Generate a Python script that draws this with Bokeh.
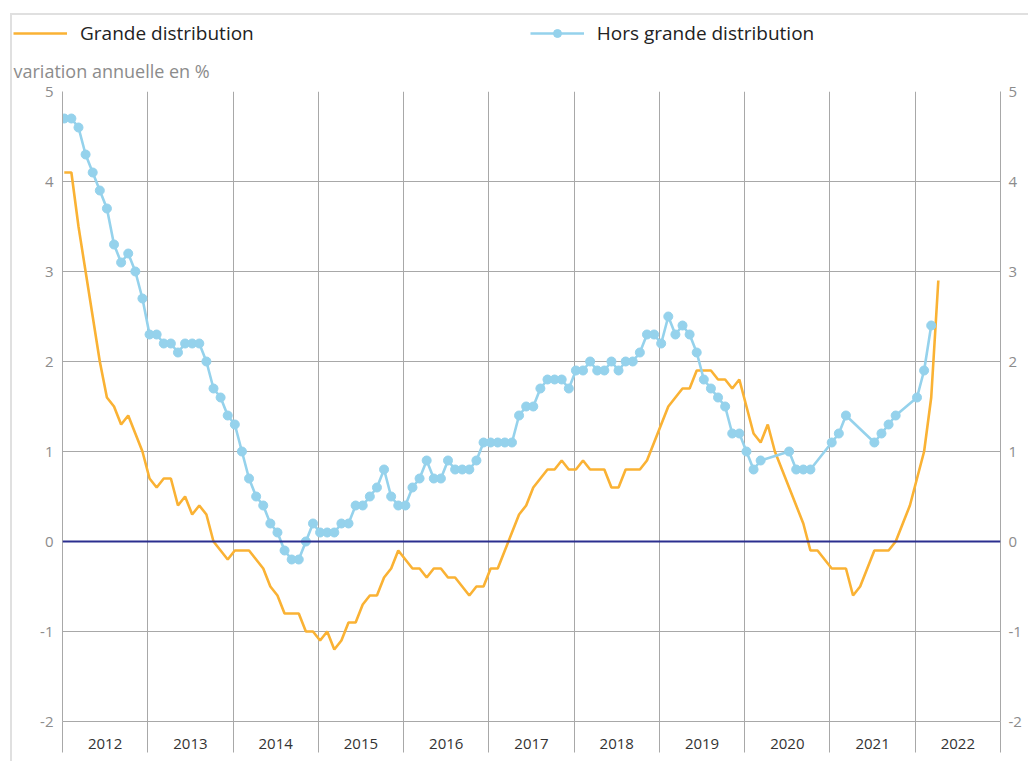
import pandas as pd
from bokeh.plotting import figure
from bokeh.layouts import column
from bokeh.models import (Range1d, FixedTicker, LinearAxis, Span, Legend, LegendItem,
                          Title, ColumnDataSource)
from bokeh.embed import file_html
from bokeh.resources import INLINE

# ---- data (annual change in %, monthly from Jan 2012) ----
start_month = "2012-01"
grande = [4.1, 4.1, 3.5, 3.0, 2.5, 2.0, 1.6, 1.5, 1.3, 1.4, 1.2, 1.0,
          0.7, 0.6, 0.7, 0.7, 0.4, 0.5, 0.3, 0.4, 0.3, 0.0, -0.1, -0.2,
          -0.1, -0.1, -0.1, -0.2, -0.3, -0.5, -0.6, -0.8, -0.8, -0.8, -1.0, -1.0,
          -1.1, -1.0, -1.2, -1.1, -0.9, -0.9, -0.7, -0.6, -0.6, -0.4, -0.3, -0.1,
          -0.2, -0.3, -0.3, -0.4, -0.3, -0.3, -0.4, -0.4, -0.5, -0.6, -0.5, -0.5,
          -0.3, -0.3, -0.1, 0.1, 0.3, 0.4, 0.6, 0.7, 0.8, 0.8, 0.9, 0.8,
          0.8, 0.9, 0.8, 0.8, 0.8, 0.6, 0.6, 0.8, 0.8, 0.8, 0.9, 1.1,
          1.3, 1.5, 1.6, 1.7, 1.7, 1.9, 1.9, 1.9, 1.8, 1.8, 1.7, 1.8,
          1.5, 1.2, 1.1, 1.3, 1.0, 0.8, 0.6, 0.4, 0.2, -0.1, -0.1, -0.2,
          -0.3, -0.3, -0.3, -0.6, -0.5, -0.3, -0.1, -0.1, -0.1, 0.0, 0.2, 0.4,
          0.7, 1.0, 1.6, 2.9]
hors = [4.7, 4.7, 4.6, 4.3, 4.1, 3.9, 3.7, 3.3, 3.1, 3.2, 3.0, 2.7,
        2.3, 2.3, 2.2, 2.2, 2.1, 2.2, 2.2, 2.2, 2.0, 1.7, 1.6, 1.4,
        1.3, 1.0, 0.7, 0.5, 0.4, 0.2, 0.1, -0.1, -0.2, -0.2, 0.0, 0.2,
        0.1, 0.1, 0.1, 0.2, 0.2, 0.4, 0.4, 0.5, 0.6, 0.8, 0.5, 0.4,
        0.4, 0.6, 0.7, 0.9, 0.7, 0.7, 0.9, 0.8, 0.8, 0.8, 0.9, 1.1,
        1.1, 1.1, 1.1, 1.1, 1.4, 1.5, 1.5, 1.7, 1.8, 1.8, 1.8, 1.7,
        1.9, 1.9, 2.0, 1.9, 1.9, 2.0, 1.9, 2.0, 2.0, 2.1, 2.3, 2.3,
        2.2, 2.5, 2.3, 2.4, 2.3, 2.1, 1.8, 1.7, 1.6, 1.5, 1.2, 1.2,
        1.0, 0.8, 0.9, None, None, None, 1.0, 0.8, 0.8, 0.8, None, None,
        1.1, 1.2, 1.4, None, None, None, 1.1, 1.2, 1.3, 1.4, None, None,
        1.6, 1.9, 2.4]
years = [str(y) for y in range(2012, 2023)]
y_ticks = [-2, -1, 0, 1, 2, 3, 4, 5]
label_grande = "Grande distribution"
label_hors = "Hors grande distribution"
y_title = "variation annuelle en %"

ORANGE = "#fab234"
BLUE = "#95d2ec"
GRID = "#a8a8a8"
FONT = "Open Sans"

dates = pd.date_range(start=start_month, periods=len(grande), freq="MS")
def dec_year(d):
    return d.year + (d.month - 1 + 0.25) / 12.0

x_g = [dec_year(d) for d in dates]
src_g = ColumnDataSource(dict(x=x_g, y=grande))
x_h = [dec_year(d) for d, v in zip(dates, hors) if v is not None]
y_h = [v for v in hors if v is not None]
src_h = ColumnDataSource(dict(x=x_h, y=y_h))

first_year = int(years[0])
last_year = int(years[-1]) + 1

# ---------- legend strip (same series, ranges chosen so nothing is in view) ----------
leg = figure(width=1016, height=31, title=None, x_range=Range1d(0, 1), y_range=Range1d(0, 1),
             output_backend="svg", toolbar_location=None,
             x_axis_location=None, y_axis_location=None,
             min_border_left=0, min_border_right=0, min_border_top=0, min_border_bottom=0)
leg.frame_align = False
leg.grid.visible = False
leg.outline_line_color = None
dg = leg.line("x", "y", source=src_g, line_color=ORANGE, line_width=2.6)
dh = leg.line("x", "y", source=src_h, line_color=BLUE, line_width=2.6)
dhs = leg.scatter("x", "y", source=src_h, size=9, fill_color=BLUE, line_color=BLUE)
legend = Legend(items=[LegendItem(label=label_grande, renderers=[dg]),
                       LegendItem(label=label_hors, renderers=[dh, dhs])],
                orientation="horizontal", location=(1, 0),
                glyph_width=54, glyph_height=20, label_standoff=13, spacing=276,
                label_text_font=FONT, label_text_font_size="19px",
                label_text_color="#222222", padding=0, margin=0,
                border_line_color=None, background_fill_alpha=0)
leg.add_layout(legend, "center")

# ---------- main chart ----------
p = figure(width=1016, height=715, title=None,
           x_range=Range1d(first_year, last_year), y_range=Range1d(y_ticks[0], y_ticks[-1]),
           output_backend="svg", toolbar_location=None,
           min_border_left=50, min_border_right=28, min_border_top=45, min_border_bottom=40)
p.outline_line_color = None

xt = FixedTicker(ticks=[int(y) + 0.5 for y in years],
                 minor_ticks=list(range(first_year, last_year + 1)))
p.xaxis.ticker = xt
p.xaxis.major_label_overrides = {int(y) + 0.5: y for y in years}
p.xaxis.major_tick_line_color = None
p.xaxis.major_tick_out = 0
p.xaxis.major_tick_in = 0
p.xaxis.minor_tick_in = 0
p.xaxis.minor_tick_out = 31
p.xaxis.minor_tick_line_color = GRID
p.xaxis.axis_line_color = GRID
p.xaxis.major_label_standoff = -14
p.xaxis.major_label_text_font = FONT
p.xaxis.major_label_text_font_size = "15px"
p.xaxis.major_label_text_color = "#333333"

def style_y(ax, standoff):
    ax.ticker = FixedTicker(ticks=y_ticks)
    ax.major_label_overrides = {t: str(t) for t in y_ticks}
    ax.major_tick_line_color = None
    ax.minor_tick_line_color = None
    ax.major_tick_out = 0
    ax.major_tick_in = 0
    ax.minor_tick_out = 0
    ax.minor_tick_in = 0
    ax.axis_line_color = GRID
    ax.major_label_standoff = standoff
    ax.major_label_text_font = FONT
    ax.major_label_text_font_size = "15px"
    ax.major_label_text_color = "#8c8c8c"

style_y(p.yaxis[0], 9)
ry = LinearAxis()
style_y(ry, 8)
p.add_layout(ry, "right")

p.xgrid.ticker = FixedTicker(ticks=list(range(first_year + 1, last_year)))
p.xgrid.grid_line_color = GRID
p.ygrid.ticker = FixedTicker(ticks=y_ticks)
p.ygrid.grid_line_color = GRID

p.add_layout(Span(location=0, dimension="width", line_color="#2b2f8f", line_width=2))

p.line("x", "y", source=src_g, line_color=ORANGE, line_width=2.6)
p.line("x", "y", source=src_h, line_color=BLUE, line_width=2.6)
p.scatter("x", "y", source=src_h, size=9, fill_color=BLUE, line_color=BLUE)

sub = Title(text=y_title, align="left", offset=-49,
            text_font=FONT, text_font_size="18px", text_font_style="normal",
            text_color="#8c8c8c", standoff=18)
p.add_layout(sub, "above")

page = column(leg, p, spacing=0, margin=(13, 0, 0, 10),
              styles={"border-top": "2px solid #e0e0e0", "border-left": "2px solid #e0e0e0"})

open("out.html", "w").write(file_html(page, INLINE))
